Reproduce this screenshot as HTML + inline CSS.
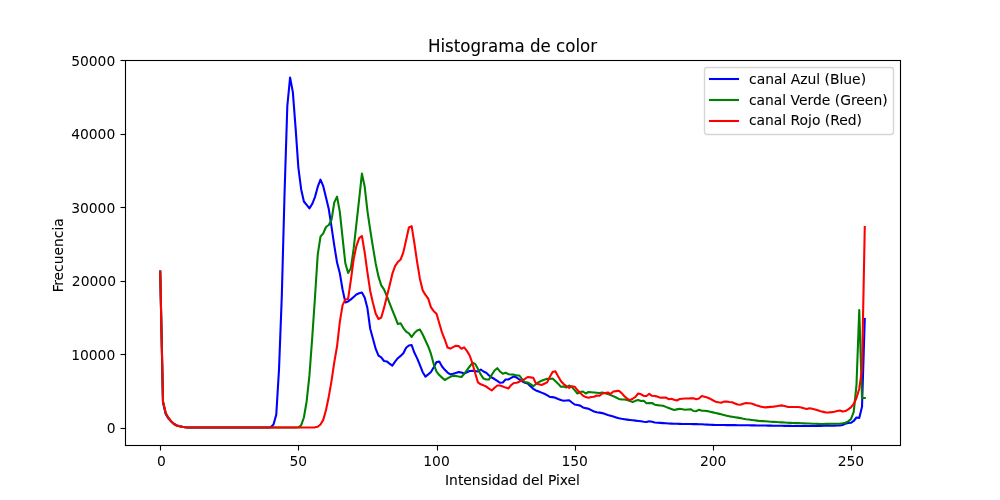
<!DOCTYPE html>
<html lang="es">
<head>
<meta charset="utf-8">
<title>Histograma de color</title>
<style>
html,body{margin:0;padding:0;background:#fff;}
body{width:1000px;height:500px;overflow:hidden;}
svg{display:block;}
text{font-family:"DejaVu Sans","Liberation Sans",sans-serif;fill:#000;}
.t{font-size:13.889px;}
.ttl{font-size:16.667px;stroke:#000;stroke-width:0.08px;}
.lb{stroke:#000;stroke-width:0.07px;}
.ax{stroke:#000;stroke-width:1.111;fill:none;}
.ln{fill:none;stroke-width:2.083;stroke-linejoin:round;stroke-linecap:square;}
</style>
</head>
<body>
<svg width="1000" height="500" viewBox="0 0 1000 500">
<rect x="0" y="0" width="1000" height="500" fill="#ffffff"/>
<!-- curves -->
<g id="curves">
<polyline class="ln" stroke="#0000ff" points="160.23,271.70 162.99,402.53 165.75,414.11 168.52,418.62 171.28,421.48 174.04,424.02 176.80,425.50 179.57,426.29 182.33,426.80 185.09,427.19 187.86,427.45 190.62,427.45 193.38,427.45 196.14,427.45 198.91,427.45 201.67,427.45 204.43,427.45 207.20,427.45 209.96,427.45 212.72,427.45 215.49,427.45 218.25,427.45 221.01,427.45 223.77,427.45 226.54,427.45 229.30,427.45 232.06,427.45 234.83,427.45 237.59,427.45 240.35,427.45 243.11,427.45 245.88,427.45 248.64,427.45 251.40,427.45 254.17,427.45 256.93,427.45 259.69,427.45 262.46,427.45 265.22,427.45 267.98,427.45 270.74,427.26 273.51,424.48 276.27,414.61 279.03,369.14 281.80,296.12 284.56,193.06 287.32,105.99 290.08,77.50 292.85,92.12 295.61,128.14 298.37,167.61 301.14,189.16 303.90,201.49 306.66,204.95 309.42,208.40 312.19,204.02 314.95,197.12 317.71,186.96 320.48,179.60 323.24,186.16 326.00,197.60 328.77,209.03 331.53,226.85 334.29,245.62 337.05,262.54 339.82,273.29 342.58,289.48 345.34,302.40 348.11,301.42 350.87,299.37 353.63,296.95 356.39,294.53 359.16,293.31 361.92,292.60 364.68,297.47 367.45,308.35 370.21,328.75 372.97,338.70 375.73,348.94 378.50,355.70 381.26,357.48 384.02,361.00 386.79,361.43 389.55,363.64 392.31,365.60 395.08,361.70 397.84,358.21 400.60,355.92 403.36,353.27 406.13,347.75 408.89,345.53 411.65,345.00 414.42,352.83 417.18,358.36 419.94,365.05 422.70,372.23 425.47,376.60 428.23,374.36 430.99,372.01 433.76,367.24 436.52,361.93 439.28,361.60 442.04,366.47 444.81,369.81 447.57,372.57 450.33,374.40 453.10,373.77 455.86,372.94 458.62,372.11 461.39,372.52 464.15,373.50 466.91,372.19 469.67,370.95 472.44,370.80 475.20,371.14 477.96,371.50 480.73,369.50 483.49,371.49 486.25,372.69 489.01,375.46 491.78,377.49 494.54,379.03 497.30,380.94 500.07,382.80 502.83,382.44 505.59,379.50 508.35,379.50 511.12,377.93 513.88,376.50 516.64,377.48 519.41,379.55 522.17,381.36 524.93,382.73 527.70,383.42 530.46,386.27 533.22,388.76 535.98,390.49 538.75,391.53 541.51,392.60 544.27,393.71 547.04,395.22 549.80,396.88 552.56,397.13 555.32,397.80 558.09,399.03 560.85,400.03 563.61,400.80 566.38,400.46 569.14,400.20 571.90,402.47 574.66,404.53 577.43,405.03 580.19,405.63 582.95,407.44 585.72,408.14 588.48,408.74 591.24,410.12 594.01,411.50 596.77,412.25 599.53,412.65 602.29,413.10 605.06,414.02 607.82,414.94 610.58,415.77 613.35,416.60 616.11,417.43 618.87,418.26 621.63,418.83 624.40,419.22 627.16,419.60 629.92,419.99 632.69,420.32 635.45,420.65 638.21,420.99 640.98,421.33 643.74,421.70 646.50,422.00 649.26,421.20 652.03,421.80 654.79,422.45 657.55,422.70 660.32,422.91 663.08,423.12 665.84,423.33 668.60,423.52 671.37,423.60 674.13,423.68 676.89,423.76 679.66,423.84 682.42,423.92 685.18,424.00 687.94,424.04 690.71,424.08 693.47,424.11 696.23,424.15 699.00,424.19 701.76,424.29 704.52,424.44 707.29,424.59 710.05,424.74 712.81,424.88 715.57,425.00 718.34,425.03 721.10,425.05 723.86,425.07 726.63,425.09 729.39,425.12 732.15,425.14 734.91,425.16 737.68,425.18 740.44,425.21 743.20,425.25 745.97,425.29 748.73,425.33 751.49,425.37 754.25,425.41 757.02,425.46 759.78,425.50 762.54,425.54 765.31,425.58 768.07,425.62 770.83,425.66 773.60,425.70 776.36,425.75 779.12,425.79 781.88,425.82 784.65,425.85 787.41,425.87 790.17,425.90 792.94,425.93 795.70,425.96 798.46,425.98 801.22,425.99 803.99,425.98 806.75,425.97 809.51,425.95 812.28,425.94 815.04,425.92 817.80,425.91 820.56,425.89 823.33,425.83 826.09,425.78 828.85,425.72 831.62,425.67 834.38,425.61 837.14,425.56 839.91,425.50 842.67,425.06 845.43,423.69 848.19,423.00 850.96,422.76 853.72,420.98 856.48,417.50 859.25,418.00 862.01,406.73 864.77,318.90"/>
<polyline class="ln" stroke="#008000" points="160.23,271.20 162.99,401.53 165.75,413.31 168.52,418.02 171.28,421.47 174.04,424.02 176.80,425.50 179.57,426.29 182.33,426.80 185.09,427.19 187.86,427.45 190.62,427.45 193.38,427.45 196.14,427.45 198.91,427.45 201.67,427.45 204.43,427.45 207.20,427.45 209.96,427.45 212.72,427.45 215.49,427.45 218.25,427.45 221.01,427.45 223.77,427.45 226.54,427.45 229.30,427.45 232.06,427.45 234.83,427.45 237.59,427.45 240.35,427.45 243.11,427.45 245.88,427.45 248.64,427.45 251.40,427.45 254.17,427.45 256.93,427.45 259.69,427.45 262.46,427.45 265.22,427.45 267.98,427.45 270.74,427.45 273.51,427.45 276.27,427.45 279.03,427.45 281.80,427.45 284.56,427.45 287.32,427.45 290.08,427.45 292.85,427.45 295.61,427.45 298.37,427.30 301.14,425.40 303.90,417.50 306.66,401.23 309.42,375.67 312.19,338.17 314.95,297.72 317.71,254.91 320.48,236.66 323.24,233.41 326.00,227.00 328.77,225.02 331.53,219.81 334.29,202.38 337.05,196.60 339.82,211.85 342.58,237.80 345.34,263.26 348.11,273.00 350.87,268.22 353.63,248.92 356.39,224.05 359.16,199.18 361.92,173.60 364.68,186.52 367.45,211.08 370.21,229.88 372.97,247.25 375.73,263.67 378.50,276.66 381.26,285.38 384.02,289.45 386.79,295.97 389.55,303.03 392.31,310.21 395.08,316.98 397.84,324.00 400.60,323.20 403.36,328.07 406.13,331.63 408.89,333.44 411.65,337.00 414.42,333.11 417.18,330.54 419.94,329.60 422.70,334.53 425.47,340.51 428.23,346.46 430.99,353.97 433.76,364.27 436.52,371.65 439.28,375.10 442.04,377.64 444.81,380.00 447.57,378.46 450.33,376.88 453.10,375.60 455.86,375.97 458.62,376.59 461.39,377.00 464.15,373.99 466.91,370.12 469.67,366.50 472.44,362.80 475.20,363.87 477.96,369.00 480.73,374.45 483.49,378.59 486.25,379.50 489.01,379.48 491.78,374.78 494.54,370.53 497.30,368.20 500.07,371.56 502.83,373.80 505.59,372.80 508.35,374.19 511.12,374.50 513.88,374.63 516.64,375.50 519.41,375.50 522.17,379.36 524.93,382.12 527.70,382.46 530.46,384.15 533.22,386.20 535.98,383.93 538.75,382.13 541.51,380.75 544.27,379.73 547.04,378.80 549.80,379.00 552.56,378.50 555.32,381.01 558.09,383.67 560.85,386.80 563.61,386.50 566.38,387.50 569.14,385.50 571.90,387.10 574.66,390.10 577.43,393.50 580.19,391.97 582.95,391.50 585.72,393.50 588.48,392.00 591.24,392.25 594.01,392.50 596.77,392.75 599.53,393.00 602.29,392.50 605.06,393.27 607.82,394.12 610.58,395.12 613.35,396.17 616.11,397.55 618.87,398.94 621.63,399.50 624.40,399.50 627.16,399.98 629.92,401.13 632.69,402.00 635.45,400.85 638.21,400.00 640.98,401.00 643.74,400.80 646.50,403.20 649.26,403.12 652.03,403.00 654.79,404.67 657.55,405.12 660.32,405.46 663.08,405.83 665.84,406.88 668.60,407.94 671.37,408.99 674.13,410.00 676.89,409.37 679.66,408.80 682.42,409.33 685.18,409.80 687.94,409.45 690.71,409.20 693.47,411.00 696.23,411.18 699.00,409.80 701.76,410.72 704.52,410.80 707.29,411.09 710.05,411.73 712.81,412.36 715.57,412.99 718.34,413.62 721.10,414.27 723.86,414.97 726.63,415.66 729.39,416.35 732.15,416.82 734.91,417.24 737.68,417.65 740.44,418.11 743.20,418.80 745.97,419.25 748.73,419.59 751.49,419.94 754.25,420.28 757.02,420.63 759.78,420.97 762.54,421.16 765.31,421.33 768.07,421.50 770.83,421.68 773.60,421.85 776.36,422.02 779.12,422.20 781.88,422.37 784.65,422.54 787.41,422.71 790.17,422.89 792.94,423.02 795.70,423.09 798.46,423.16 801.22,423.25 803.99,423.36 806.75,423.47 809.51,423.58 812.28,423.69 815.04,423.80 817.80,423.91 820.56,424.00 823.33,423.95 826.09,423.91 828.85,423.87 831.62,423.83 834.38,423.78 837.14,423.74 839.91,423.70 842.67,423.33 845.43,422.78 848.19,421.40 850.96,419.16 853.72,411.81 856.48,385.17 859.25,310.00 862.01,398.00 864.77,398.00"/>
<polyline class="ln" stroke="#ff0000" points="160.23,271.70 162.99,401.53 165.75,413.31 168.52,418.02 171.28,421.47 174.04,424.02 176.80,425.50 179.57,426.29 182.33,426.80 185.09,427.19 187.86,427.45 190.62,427.45 193.38,427.45 196.14,427.45 198.91,427.45 201.67,427.45 204.43,427.45 207.20,427.45 209.96,427.45 212.72,427.45 215.49,427.45 218.25,427.45 221.01,427.45 223.77,427.45 226.54,427.45 229.30,427.45 232.06,427.45 234.83,427.45 237.59,427.45 240.35,427.45 243.11,427.45 245.88,427.45 248.64,427.45 251.40,427.45 254.17,427.45 256.93,427.45 259.69,427.45 262.46,427.45 265.22,427.45 267.98,427.45 270.74,427.45 273.51,427.45 276.27,427.45 279.03,427.45 281.80,427.45 284.56,427.45 287.32,427.45 290.08,427.45 292.85,427.45 295.61,427.45 298.37,427.45 301.14,427.45 303.90,427.45 306.66,427.45 309.42,427.45 312.19,427.44 314.95,427.35 317.71,426.79 320.48,424.52 323.24,419.86 326.00,409.99 328.77,396.67 331.53,380.81 334.29,362.06 337.05,346.26 339.82,321.90 342.58,305.12 345.34,299.61 348.11,298.96 350.87,280.21 353.63,259.35 356.39,246.03 359.16,238.15 361.92,236.00 364.68,252.32 367.45,272.59 370.21,290.92 372.97,303.08 375.73,313.71 378.50,319.00 381.26,317.50 384.02,307.91 386.79,296.85 389.55,285.80 392.31,273.96 395.08,266.07 397.84,261.97 400.60,259.50 403.36,252.36 406.13,239.93 408.89,227.50 411.65,226.20 414.42,243.46 417.18,262.43 419.94,278.91 422.70,290.34 425.47,294.95 428.23,298.64 430.99,307.32 433.76,311.21 436.52,313.77 439.28,323.18 442.04,332.61 444.81,339.52 447.57,347.58 450.33,348.60 453.10,347.13 455.86,345.80 458.62,346.11 461.39,348.80 464.15,347.40 466.91,350.89 469.67,355.50 472.44,363.39 475.20,373.31 477.96,382.33 480.73,384.30 483.49,385.33 486.25,386.56 489.01,388.64 491.78,390.50 494.54,387.74 497.30,385.50 500.07,385.52 502.83,386.56 505.59,387.60 508.35,388.50 511.12,385.07 513.88,382.96 516.64,382.82 519.41,381.67 522.17,380.36 524.93,378.92 527.70,377.00 530.46,377.36 533.22,377.76 535.98,383.46 538.75,384.25 541.51,385.00 544.27,383.74 547.04,382.43 549.80,376.90 552.56,371.98 555.32,371.20 558.09,376.26 560.85,380.96 563.61,384.06 566.38,386.16 569.14,388.00 571.90,386.20 574.66,386.70 577.43,390.08 580.19,393.07 582.95,395.56 585.72,397.06 588.48,397.80 591.24,397.06 594.01,396.80 596.77,395.50 599.53,395.80 602.29,393.45 605.06,392.94 607.82,392.50 610.58,394.00 613.35,391.46 616.11,391.14 618.87,390.80 621.63,393.15 624.40,396.22 627.16,398.64 629.92,400.20 632.69,398.75 635.45,396.90 638.21,393.50 640.98,394.25 643.74,395.85 646.50,396.00 649.26,393.80 652.03,395.80 654.79,396.05 657.55,396.62 660.32,397.80 663.08,397.66 665.84,397.50 668.60,399.20 671.37,398.80 674.13,399.69 676.89,400.50 679.66,398.97 682.42,398.68 685.18,398.54 687.94,398.44 690.71,398.37 693.47,398.30 696.23,399.20 699.00,398.50 701.76,396.00 704.52,396.70 707.29,397.46 710.05,398.68 712.81,400.25 715.57,401.64 718.34,402.29 721.10,402.80 723.86,401.60 726.63,401.53 729.39,402.08 732.15,402.26 734.91,403.42 737.68,404.52 740.44,404.80 743.20,403.84 745.97,403.00 748.73,403.27 751.49,403.55 754.25,404.50 757.02,405.61 759.78,406.36 762.54,406.91 765.31,407.40 768.07,407.13 770.83,406.88 773.60,406.64 776.36,406.25 779.12,405.83 781.88,405.40 784.65,406.11 787.41,406.84 790.17,407.00 792.94,407.00 795.70,407.00 798.46,407.00 801.22,407.41 803.99,408.33 806.75,409.00 809.51,408.20 812.28,408.80 815.04,409.40 817.80,410.34 820.56,411.34 823.33,411.89 826.09,412.50 828.85,412.35 831.62,412.12 834.38,411.66 837.14,410.96 839.91,410.50 842.67,411.50 845.43,411.09 848.19,409.43 850.96,407.43 853.72,403.96 856.48,398.04 859.25,388.69 862.01,369.56 864.77,227.00"/>
</g>
<!-- x ticks -->
<g class="ax">
<line x1="160.5" y1="445.5" x2="160.5" y2="450.5"/>
<line x1="298.5" y1="445.5" x2="298.5" y2="450.5"/>
<line x1="437.5" y1="445.5" x2="437.5" y2="450.5"/>
<line x1="575.5" y1="445.5" x2="575.5" y2="450.5"/>
<line x1="713.5" y1="445.5" x2="713.5" y2="450.5"/>
<line x1="851.5" y1="445.5" x2="851.5" y2="450.5"/>
</g>
<!-- y ticks -->
<g class="ax">
<line x1="120.5" y1="428.5" x2="125.5" y2="428.5"/>
<line x1="120.5" y1="354.5" x2="125.5" y2="354.5"/>
<line x1="120.5" y1="281.5" x2="125.5" y2="281.5"/>
<line x1="120.5" y1="207.5" x2="125.5" y2="207.5"/>
<line x1="120.5" y1="134.5" x2="125.5" y2="134.5"/>
<line x1="120.5" y1="60.5" x2="125.5" y2="60.5"/>
</g>
<!-- spines -->
<rect class="ax" x="125.5" y="60.5" width="775" height="385"/>
<!-- x tick labels -->
<g class="t" text-anchor="middle">
<text x="161.3" y="466.3">0</text>
<text x="298.37" y="466.3">50</text>
<text x="436.52" y="466.3">100</text>
<text x="574.67" y="466.3">150</text>
<text x="713.2" y="466.3">200</text>
<text x="850.96" y="466.3">250</text>
</g>
<!-- y tick labels -->
<g class="t" text-anchor="end">
<text x="115.7" y="432.8">0</text>
<text x="115.28" y="360.4">10000</text>
<text x="116.0" y="286.0">20000</text>
<text x="115.28" y="212.6">30000</text>
<text x="115.28" y="139.2">40000</text>
<text x="115.28" y="65.8">50000</text>
</g>
<!-- labels -->
<text class="ttl" transform="translate(512.5,51.7) scale(1,1.1)" x="0" y="0" text-anchor="middle">Histograma de color</text>
<text class="t lb" x="512.5" y="484.9" text-anchor="middle">Intensidad del Pixel</text>
<text class="t lb" transform="translate(62.5,255.2) rotate(-90)" dx="0 -0.6" text-anchor="middle">Frecuencia</text>
<!-- legend -->
<rect x="704.5" y="67.5" width="189" height="67" rx="2.78" ry="2.78" fill="#ffffff" fill-opacity="0.8" stroke="#cccccc" stroke-opacity="0.8" stroke-width="1.389"/>
<g stroke-width="2.083" stroke-linecap="square">
<line x1="710" y1="79" x2="738" y2="79" stroke="#0000ff"/>
<line x1="710" y1="100" x2="738" y2="100" stroke="#008000"/>
<line x1="710" y1="121" x2="738" y2="121" stroke="#ff0000"/>
</g>
<g class="t lb">
<text x="749" y="83.5">canal Azul (Blue)</text>
<text x="748.9" y="105.44">canal Verde (Green)</text>
<text x="748.9" y="125.39">canal Rojo (Red)</text>
</g>
</svg>
</body>
</html>
